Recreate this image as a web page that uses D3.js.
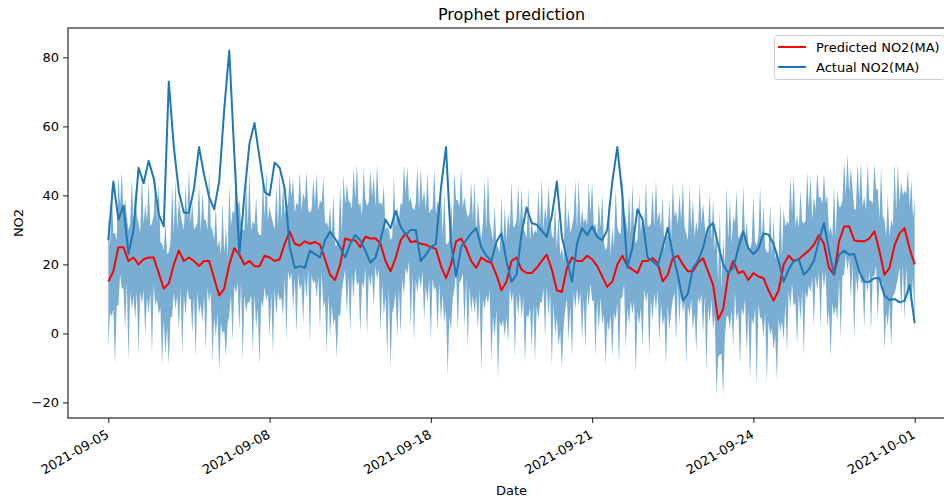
<!DOCTYPE html>
<html>
<head>
<meta charset="utf-8">
<script src="https://cdn.jsdelivr.net/npm/d3@7"></script>
<style>
    body { margin: 0; background: #ffffff; }
    text { font-family: "DejaVu Sans", sans-serif; fill: #000; }
</style>
</head>
<body>
<svg id="chart" width="944" height="499"></svg>
<script>
// tick labels on the x axis (index based, as in the original plot)
const xTickIndex = [0, 32, 64, 96, 128, 160];
const xTickLabels = ["2021-09-05", "2021-09-08", "2021-09-18", "2021-09-21", "2021-09-24", "2021-10-01"];
const yTicks = [-20, 0, 20, 40, 60, 80];

// Actual NO2 moving average, 161 samples
const actualMA = [
    27, 44, 33, 37, 23, 30, 48, 43.5, 50, 45,
    34.5, 31, 73, 54, 41, 35, 35, 42, 54, 46,
    39.5, 36, 44, 65, 82, 52, 23, 40, 55, 61,
    51, 41, 40, 49.5, 48, 42, 25, 19, 19.5, 19,
    24, 23, 22, 27, 29.5, 27.5, 25, 22, 26, 28.5,
    27, 24, 20.5, 22, 27, 33, 30.5, 35.5, 31, 28.5,
    30, 30, 21, 22.8, 25, 26, 42, 54, 26, 16.5,
    25, 27, 29, 30.5, 25, 22.5, 21, 26.5, 29, 21,
    15, 17, 29, 36.5, 32, 31.5, 29.8, 28, 34, 44,
    28, 21.5, 15, 26, 30.5, 28.5, 31, 28, 27, 30,
    44, 54, 40, 19, 25, 36, 33, 22, 20.9, 19.5,
    25, 30.6, 23, 17, 9.5, 11.5, 19, 21, 24.7, 30.6,
    32, 25.7, 20, 17.5, 19, 24.7, 29.5, 24.7, 23, 24.5,
    29, 28.6, 26, 21, 15, 18.5, 21, 21.5, 17, 18.5,
    21, 27, 32, 24, 17, 22.8, 24, 22.8, 23, 18,
    15, 15, 16, 16, 11, 9.7, 10, 9, 9.5, 14,
    3
];

// Predicted NO2 moving average, 161 samples
const predictedMA = [
    15, 18, 25, 25, 21, 22, 20, 21.5, 22, 22,
    17.5, 13, 14.5, 20, 24, 21, 22, 21, 19.5, 21,
    21, 16, 11, 13, 20, 24.7, 22.8, 20, 21, 19.5,
    19.5, 22.5, 22, 21, 21.5, 26, 29.5, 26, 25.5, 26.7,
    26, 26.5, 25.7, 21.5, 17, 15.5, 20, 27.5, 27, 27,
    25, 28, 27.5, 27.6, 26, 21, 18, 21.8, 27, 29,
    26.5, 26.7, 26, 25.7, 25, 24.5, 19.5, 16, 20, 26.7,
    27.5, 24.7, 21, 19, 22, 21, 20.5, 17, 12.5, 15,
    21, 22, 18.5, 17.5, 17.5, 19, 21, 22.8, 18.5, 12.5,
    12, 19, 22, 21, 21, 22.5, 21.5, 19.5, 16.5, 13.5,
    15, 20, 22.5, 19.5, 18.5, 17.5, 21, 21, 21.8, 20.5,
    15.1, 17, 21.8, 22.5, 20, 18, 18, 20.5, 21.8, 18,
    14.1, 4, 7, 17, 21, 17.5, 18, 15.5, 17.5, 16.5,
    16, 12.5, 9.5, 12.5, 20, 22.5, 21, 21.5, 22.8, 24,
    25.7, 28.5, 26, 19, 17, 26.7, 31, 31, 27, 26.7,
    26.7, 27.5, 29.6, 24, 17, 19, 25.5, 29, 30.5, 24.5,
    20
];

// prediction interval (upper / lower), 481 samples over the same span
const bandUpper = [
    34, 25, 43, 29, 29, 27, 46, 37, 47, 35, 39, 34, 30, 32, 45, 32, 42, 34, 32, 29, 46.5, 31.5, 37.5, 32.5,
    44, 31, 32, 34, 46, 32, 43.5, 26.5, 26, 24, 32, 23, 23.5, 26.5, 43, 29, 45, 30, 39, 35, 32, 30, 43, 33,
    48, 32, 38, 30, 31, 32, 43.5, 29.5, 41, 33, 33, 30, 47, 31, 30, 27, 37, 25, 27, 23, 38, 23, 31, 22,
    43, 31, 35.7, 34.7, 49, 36.7, 38.8, 31.8, 30, 30, 44, 31, 47, 30, 32.5, 31.5, 39.5, 29.5, 28.5, 28.5, 45.5, 33.5, 47.5, 32.5,
    37, 34, 32, 30, 43, 31, 47, 32.5, 43, 35, 36, 38, 46, 39.5, 45, 35, 38, 37, 47, 35.5, 40.7, 38.7, 47, 35.7,
    35, 36, 45, 37.5, 46.5, 35.5, 38.7, 37.7, 45.5, 31.5, 32.5, 30.5, 37, 28, 40.5, 25.5, 25.5, 27.5, 43, 29, 46, 37.5, 43.5, 38.5,
    38, 36, 48, 39, 49, 37, 38, 34, 48, 39, 37, 38, 47.5, 39.5, 45.6, 36.6, 49, 37.6, 38, 37, 43, 30, 31, 30,
    27, 28, 45.8, 30.8, 36.8, 32.8, 38, 37, 49, 41, 48.5, 38, 39.5, 36.5, 35.7, 37.7, 49, 35.7, 48, 38, 41.7, 35.7, 46.7, 34.7,
    36, 36, 48, 34.5, 38.5, 36.5, 41.5, 28.5, 41, 26, 26, 27, 39, 29, 47, 38.7, 38.7, 36.7, 48, 36.5, 39.7, 35.7, 33.7, 34.7,
    44, 33, 44, 28, 39, 32, 27, 32, 45, 30, 46.5, 32.5, 30, 27, 37, 26, 25, 23.5, 40, 25, 37, 27, 35, 30,
    44, 31, 31, 33, 43, 31, 42.5, 30.5, 29.5, 27.5, 42.5, 26.5, 33.5, 28.5, 30, 29, 42, 31, 45, 30, 36.8, 32.8, 42.8, 33.8,
    28.5, 27.5, 37.5, 24.5, 34.5, 22.5, 25, 21, 43.5, 30, 36, 29, 31, 34, 44.5, 30, 45, 31, 36, 32, 33.5, 31.5, 44, 34.5,
    44, 31.5, 31.5, 28.5, 38.5, 30.5, 40.5, 26.5, 24, 25.5, 38.5, 22.5, 31, 25, 42, 31, 29, 29, 45.5, 34.5, 33.5, 29.5, 40.5, 28.5,
    43.5, 29.5, 26, 27.5, 40.5, 29.5, 34, 30, 44, 31, 31, 32, 41.8, 30.8, 44.5, 32.5, 35.5, 30.5, 40.1, 24.1, 29, 28, 39, 27,
    44, 33.8, 35.5, 31.5, 40.5, 32.5, 44, 31, 29, 27, 43, 30, 39, 28, 32.5, 29.5, 43.5, 31.5, 37.8, 31.8, 27, 30, 41, 27,
    39.1, 24.1, 30, 15, 36, 13, 28, 19, 43, 27, 39, 26, 34, 32, 41.5, 27.5, 28.5, 29.5, 43, 27, 32.5, 25.5, 24.5, 26.5,
    40.5, 26.5, 25.5, 28.5, 42.5, 26.5, 37, 25, 23.5, 23.5, 37.5, 22.5, 33.5, 21.5, 24.5, 21.5, 38.5, 22.5, 36, 31, 32.5, 31.5, 45.5, 34.5,
    46, 31, 34.5, 30.5, 41.5, 32.5, 31.8, 32.8, 47, 36, 46, 33, 39.7, 35.7, 47, 39.5, 39.5, 37.5, 46.5, 38, 40, 29, 31, 28,
    43, 28, 41.7, 36.7, 36.7, 38.7, 50, 40, 52, 41, 48, 42, 36, 36, 49.7, 38.7, 50, 36.7, 39.7, 35.7, 49.5, 38.5, 38.5, 37.5,
    49, 41.6, 42, 33, 48, 34, 33, 28, 40, 28, 33, 31, 49.5, 35.5, 49, 38, 44, 40, 41.5, 40.5, 47.5, 36.5, 44.5, 33.5,
    39
];
const bandLower = [
    -4, 6, 5, 7, -9, 8, 8, 17, 13, 13, 1, 15, -8, 12, 7, 11, 4, 12, -6, 12, 8.5, 12.5, -0.5, 10.5,
    6, 12, -6, 14, 8, 10, 5.5, 7.5, -9, 4, -6, 2, -9, 4.5, 5, 12, 7, 11, 1, 13, -6, 11, 5, 13,
    10, 10, 0, 11, -7, 12, 5.5, 8.5, 3, 11, -5, 13, 9, 12, -8, 5, -1, 6, -11, 3, 0, 1, -7, 3,
    5, 11, -2.3, 13.7, 11.7, 14.7, 0.8, 14.8, -8, 11, 6, 9, 9, 11, -5.5, 11.5, 1.5, 7.5, -9.5, 9.5, 7.5, 13.5, 9.5, 11.5,
    -1, 12, -6, 13, 5, 12, 9.5, 10.5, 5, 16, -2, 18, 15.5, 17.5, 7, 16, 0, 17, 12.5, 14.5, 2.7, 16.7, 9.7, 18.7,
    -3, 17, 14.5, 15.5, 10.5, 16.5, 0.7, 17.7, 7.5, 9.5, -5.5, 11.5, -1, 8, 2.5, 4.5, -7, 5.5, 5, 12, 15.5, 18.5, 5.5, 16.5,
    0, 17, 10, 19, 14, 15, 0, 15, 13, 19, -1, 17, 13.5, 17.5, 7.6, 19.6, 15.6, 18.6, 0, 15, 5, 11, -7, 13,
    -10, 6, 7.8, 11.8, -1.2, 12.8, 0, 16, 11, 19, 17, 21, 1.5, 17.5, -2.3, 15.7, 11.7, 16.7, 13, 18, 3.7, 13.7, 8.7, 15.7,
    -2, 16, 12.5, 13.5, 0.5, 14.5, 3.5, 11.5, 3, 7, -12, 5, 1, 10, 12.7, 18.7, 0.7, 14.7, 15.5, 17.5, 1.7, 15.7, -4.3, 13.7,
    6, 11, 6, 11, 1, 13, -11, 10, 7, 11, 8.5, 12.5, -8, 5, -1, 7, -13, 3.5, 2, 4, -1, 5, -3, 13,
    9, 12, -7, 11, 5, 12, 4.5, 10.5, -8.5, 5.5, 4.5, 7.5, -4.5, 8.5, -8, 8, 4, 9, 9, 13, -1.2, 13.8, 4.8, 11.8,
    -9.5, 8.5, -0.5, 4.5, -3.5, 0.5, -10, 2, 7, 10, -2, 8, -7, 12, 7, 13, 8, 12, -2, 10, -4.5, 12.5, 7.5, 14.5,
    9.5, 9.5, -6.5, 9.5, 0.5, 10.5, 2.5, 5.5, -9, 3.5, 0.5, 5.5, -7, 6, 4, 9, -9, 10, 10.5, 14.5, -4.5, 7.5, 2.5, 9.5,
    5.5, 9.5, -12, 6.5, 2.5, 7.5, -4, 13, 9, 12, -7, 10, 3.8, 11.8, 6.5, 12.5, -2.5, 8.5, 2.1, 5.1, -9, 8, 1, 6,
    9.8, 11.8, -2.5, 14.5, 2.5, 13.5, 6, 9, -9, 8, 5, 10, 1, 6, -5.5, 10.5, 8.5, 11.5, -0.2, 10.8, -11, 8, 3, 10,
    1.1, 5.1, -18, -7, -6, -6, -18, -1, 5, 5, 1, 7, -4, 12, 3.5, 6.5, -9.5, 7.5, 5, 10, -5.5, 6.5, -13.5, 4.5,
    2.5, 7.5, -15, 8.5, 4.5, 4.5, -1, 6, -14.5, 3.5, -0.5, 1.5, -4.5, -0.5, -13.5, 4.5, 0.5, 3.5, -2, 9, -5.5, 12.5, 7.5, 14.5,
    8, 9, -3.5, 11.5, 3.5, 12.5, -6.2, 11.8, 10, 14, 12, 16, 1.7, 16.7, 12.5, 17.5, 1.5, 18.5, 13, 18, 2, 7, -7, 9,
    5, 8, 3.7, 15.7, -1.3, 16.7, 17, 23, 18, 22, 10, 20, -2, 17, 11.7, 18.7, 14.7, 14.7, 1.7, 16.7, 11.5, 18.5, 0.5, 16.5,
    16.6, 19.6, 4, 16, 12, 15, -5, 6, 2, 9, -4, 11, 11.5, 13.5, 16, 19, 6, 20, 3.5, 19.5, 9.5, 14.5, 6.5, 16.5,
    1
];

const legendNames = ["Predicted NO2(MA)", "Actual NO2(MA)"];
const legendColors = ["#ff0000", "#1f77b4"];

var margin = {left: 68, top: 28, right: 955, bottom: 418};
var svg = d3.select("#chart");

var xScale = d3.scaleLinear().domain([-8, 168]).range([margin.left, margin.right]);
var xBandScale = d3.scaleLinear().domain([-24, 504]).range([margin.left, margin.right]);
var yScale = d3.scaleLinear().domain([-24.5, 88.5]).range([margin.bottom, margin.top]);

svg.append("rect")
    .attr("width", 944)
    .attr("height", 499)
    .attr("fill", "#ffffff");

svg.append("defs").append("clipPath")
    .attr("id", "plot-clip")
    .append("rect")
    .attr("x", margin.left)
    .attr("y", margin.top)
    .attr("width", margin.right - margin.left)
    .attr("height", margin.bottom - margin.top);

var plot = svg.append("g").attr("clip-path", "url(#plot-clip)");

// Prediction interval
var area = d3.area()
    .x(function (d, i) { return xBandScale(i); })
    .y0(function (d, i) { return yScale(bandLower[i]); })
    .y1(function (d) { return yScale(d); });

plot.append("path")
    .datum(bandUpper)
    .attr("d", area)
    .attr("fill", "#1f77b4")
    .attr("fill-opacity", 0.6)
    .attr("stroke", "none");

function drawLine(data, color) {
    var line = d3.line()
        .x(function (d, i) { return xScale(i); })
        .y(function (d) { return yScale(d); });

    plot.append("path")
        .datum(data)
        .attr("d", line)
        .attr("fill", "none")
        .attr("stroke", color)
        .attr("stroke-width", 2)
        .attr("stroke-linejoin", "round");
}

drawLine(predictedMA, legendColors[0]);
drawLine(actualMA, legendColors[1]);

// Axes
var yAxis = svg.append("g")
    .attr("transform", "translate(" + margin.left + ",0)")
    .call(d3.axisLeft(yScale).tickValues(yTicks).tickSize(5).tickPadding(4));
yAxis.select(".domain").remove();
yAxis.selectAll("line").attr("stroke", "#000").attr("stroke-width", 0.9);
yAxis.selectAll("text").style("font-size", "13px").attr("fill", "#000");

var xAxis = svg.append("g")
    .attr("transform", "translate(0," + margin.bottom + ")")
    .call(d3.axisBottom(xScale).tickValues(xTickIndex).tickSize(5)
        .tickFormat(function (d, i) { return xTickLabels[i]; }));
xAxis.select(".domain").remove();
xAxis.selectAll("line").attr("stroke", "#000").attr("stroke-width", 0.9);
xAxis.selectAll("text")
    .style("font-size", "13px")
    .attr("fill", "#000")
    .attr("text-anchor", "end")
    .attr("x", 0)
    .attr("y", 0)
    .attr("dy", 0)
    .attr("transform", "translate(1,19) rotate(-30)");

// frame
svg.append("rect")
    .attr("x", margin.left)
    .attr("y", margin.top)
    .attr("width", margin.right - margin.left)
    .attr("height", margin.bottom - margin.top)
    .attr("fill", "none")
    .attr("stroke", "#000")
    .attr("stroke-width", 1);

// titles
svg.append("text")
    .attr("x", (margin.left + margin.right) / 2)
    .attr("y", 20)
    .attr("text-anchor", "middle")
    .style("font-size", "16px")
    .text("Prophet prediction");

svg.append("text")
    .attr("x", (margin.left + margin.right) / 2)
    .attr("y", 495)
    .attr("text-anchor", "middle")
    .style("font-size", "13px")
    .text("Date");

svg.append("text")
    .attr("transform", "translate(23," + ((margin.top + margin.bottom) / 2) + ") rotate(-90)")
    .attr("text-anchor", "middle")
    .style("font-size", "13px")
    .text("NO2");

// Legend
var legend = svg.append("g").attr("transform", "translate(774,35)");
legend.append("rect")
    .attr("x", 0.5)
    .attr("y", 0.5)
    .attr("width", 170)
    .attr("height", 44)
    .attr("rx", 3)
    .attr("fill", "#ffffff")
    .attr("fill-opacity", 0.8)
    .attr("stroke", "#cccccc");

legendNames.forEach(function (name, i) {
    var row = legend.append("g").attr("transform", "translate(0," + (12 + i * 20) + ")");
    row.append("line")
        .attr("x1", 4)
        .attr("x2", 32)
        .attr("stroke", legendColors[i])
        .attr("stroke-width", 2);
    row.append("text")
        .attr("x", 42)
        .attr("dy", "0.35em")
        .style("font-size", "13px")
        .text(name);
});
</script>
</body>
</html>
